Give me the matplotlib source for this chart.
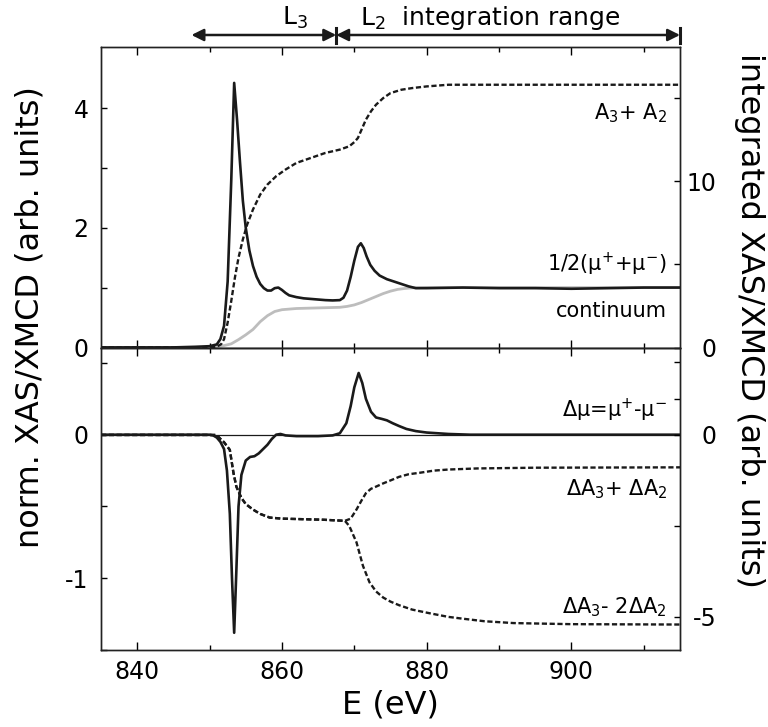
import matplotlib
matplotlib.use("Agg")
import matplotlib.pyplot as plt
import matplotlib.transforms as mtransforms
from matplotlib.lines import Line2D

plt.rcParams['font.family'] = ['DejaVu Sans']
plt.rcParams['mathtext.default'] = 'regular'

# ---------------- data ----------------
# XAS 1/2(mu+ + mu-)  (left axis, top panel)
E_xas = [835, 840, 845, 848, 850, 851, 851.5, 852, 852.5, 853, 853.4, 853.8, 854.2,
         854.6, 855, 855.5, 856, 856.5, 857, 857.5, 858, 858.5, 859, 859.5, 860,
         860.5, 861, 862, 863, 864, 865, 866, 867, 868, 868.5, 869, 869.5, 870,
         870.5, 870.9, 871.3, 871.7, 872.2, 872.8, 873.5, 874.5, 875.5, 876.5,
         877.5, 878.5, 880, 885, 890, 895, 900, 905, 910, 915]
xas = [0.0, 0.0, 0.0, 0.01, 0.02, 0.05, 0.14, 0.36, 1.1, 2.8, 4.42, 3.8, 3.1,
       2.45, 2.0, 1.62, 1.36, 1.18, 1.06, 0.99, 0.95, 0.95, 0.99, 1.0, 0.96,
       0.91, 0.87, 0.84, 0.82, 0.81, 0.8, 0.79, 0.785, 0.79, 0.83, 0.95, 1.18, 1.45,
       1.68, 1.74, 1.66, 1.52, 1.38, 1.28, 1.2, 1.14, 1.1, 1.06, 1.02, 0.99,
       0.99, 1.0, 0.99, 0.99, 0.98, 0.99, 1.0, 1.0]

# continuum step (left axis, top panel)
E_cont = [835, 845, 850, 851, 852, 853, 854, 855, 856, 857, 858, 859, 860, 862,
          865, 868, 869, 870, 871, 872, 873, 874, 875, 876, 877, 878, 880, 915]
cont = [0.0, 0.0, 0.0, 0.01, 0.03, 0.06, 0.13, 0.21, 0.3, 0.43, 0.53, 0.6, 0.63,
        0.65, 0.66, 0.67, 0.685, 0.71, 0.75, 0.8, 0.85, 0.9, 0.94, 0.97, 0.985,
        0.995, 1.0, 1.0]

# integrated A3 + A2 (right axis, top panel)
E_int = [835, 845, 850, 851, 851.6, 852, 852.5, 853, 853.5, 854, 854.6, 855.2, 856,
         857, 858, 859.2, 860.5, 862, 864, 866, 868, 869.3, 870, 870.5, 871, 871.6,
         872.3, 873, 874, 875, 876.5, 878, 880, 883, 890, 900, 915]
int_A = [0.0, 0.0, 0.0, 0.05, 0.2, 0.5, 1.5, 2.8, 4.2, 5.4, 6.5, 7.4, 8.3, 9.2,
         9.8, 10.3, 10.7, 11.1, 11.4, 11.7, 11.9, 12.1, 12.35, 12.6, 13.1, 13.7,
         14.2, 14.6, 15.0, 15.3, 15.5, 15.6, 15.7, 15.8, 15.8, 15.8, 15.8]

# XMCD mu+ - mu- (left axis, bottom panel)
E_mcd = [835, 845, 850, 850.5, 851, 851.5, 852, 852.4, 852.8, 853.1, 853.4, 853.7,
         854, 854.4, 855, 855.6, 856.2, 856.8, 857.4, 858, 858.6, 859.2, 859.8,
         860.5, 862, 865, 867, 868, 868.9, 869.5, 870, 870.6, 871.1, 871.6, 872.3,
         873, 873.8, 874.5, 875.3, 876.2, 877.2, 878.5, 880, 883, 886, 900, 915]
xmcd = [0.0, 0.0, 0.0, -0.005, -0.02, -0.05, -0.1, -0.25, -0.55, -1.0, -1.38,
        -0.95, -0.5, -0.28, -0.18, -0.155, -0.15, -0.13, -0.1, -0.07, -0.03, 0.0,
        0.005, -0.005, -0.01, -0.01, -0.005, 0.01, 0.08, 0.2, 0.33, 0.43, 0.36,
        0.25, 0.16, 0.12, 0.11, 0.1, 0.08, 0.06, 0.04, 0.025, 0.015, 0.005, 0.0,
        0.0, 0.0]

# integrated dA3 + dA2 (right axis, bottom panel)
E_dsum = [835, 845, 851, 851.4, 852, 852.8, 853.3, 853.7, 854.4, 855, 856, 857,
          858.3, 860, 862, 865.7, 868.7, 869.5, 870.3, 871, 871.6, 872.3, 873,
          874, 875, 876.2, 877.5, 879, 881, 883, 887, 895, 915]
dsum = [0.0, 0.0, 0.0, -0.09, -0.2, -0.41, -1.04, -1.42, -1.73, -1.9, -2.05,
        -2.17, -2.27, -2.3, -2.31, -2.33, -2.36, -2.3, -2.05, -1.8, -1.6, -1.48,
        -1.42, -1.33, -1.25, -1.15, -1.08, -1.04, -0.98, -0.95, -0.92, -0.9, -0.89]

# integrated dA3 - 2 dA2 (right axis, bottom panel)
E_ddiff = [835, 845, 851, 851.4, 852, 852.8, 853.3, 853.7, 854.4, 855, 856, 857,
           858.3, 860, 862, 865.7, 868.7, 869.3, 870.3, 871.2, 872.1, 873, 874,
           875, 876.2, 878, 880.4, 883, 885, 888, 892, 900, 915]
ddiff = [0.0, 0.0, 0.0, -0.09, -0.2, -0.41, -1.04, -1.42, -1.73, -1.9, -2.05,
         -2.17, -2.27, -2.3, -2.31, -2.33, -2.36, -2.5, -2.95, -3.6, -4.05, -4.3,
         -4.47, -4.58, -4.68, -4.8, -4.9, -5.0, -5.05, -5.12, -5.17, -5.2, -5.21]

# integration ranges (eV)
L3_range = [847.5, 867.5]
L2_range = [867.5, 915]

x_ticks = [840, 860, 880, 900]
x_minor = [850, 870, 890, 910]

# ---------------- figure ----------------
W, H = 768, 727
fig = plt.figure(figsize=(W / 100, H / 100), dpi=100)

L, R = 101 / W, 680 / W
ax1 = fig.add_axes([L, 1 - 348 / H, R - L, (348 - 47) / H])
ax2 = fig.add_axes([L, 1 - 650 / H, R - L, (650 - 348) / H], sharex=ax1)
ax1r = ax1.twinx()
ax2r = ax2.twinx()

lw = 1.9
dash = (2.2, 1.1)
ax1.plot(E_cont, cont, color='#bdbdbd', lw=2.0, zorder=2)
ax1.plot(E_xas, xas, color='#1a1a1a', lw=lw, zorder=3)
ax1r.plot(E_int, int_A, color='#1a1a1a', lw=1.7, dashes=dash)

ax2.axhline(0, color='#1a1a1a', lw=0.9)
ax2.plot(E_mcd, xmcd, color='#1a1a1a', lw=lw, zorder=3)
ax2r.plot(E_dsum, dsum, color='#1a1a1a', lw=1.7, dashes=dash)
ax2r.plot(E_ddiff, ddiff, color='#1a1a1a', lw=1.7, dashes=dash)

ax1.set_xlim(835, 915)
ax1.set_ylim(-0.01, 5.02)
ax1r.set_ylim(-0.03, 18.07)
ax2.set_ylim(-1.5, 0.604)
ax2r.set_ylim(-5.91, 2.39)

for a in (ax1, ax2, ax1r, ax2r):
    for s in a.spines.values():
        s.set_linewidth(1.0)
        s.set_color('#222222')

tick_fs = 17
for a in (ax1, ax2):
    a.set_xticks(x_ticks)
    a.set_xticks(x_minor, minor=True)
    a.tick_params(axis='x', which='major', direction='in', length=6, width=1,
                  top=True, bottom=True, labelsize=tick_fs, pad=7)
    a.tick_params(axis='x', which='minor', direction='in', length=3.5, width=1,
                  top=True, bottom=True)
    a.tick_params(axis='y', which='both', direction='in', length=4, width=1,
                  labelsize=tick_fs, pad=9)
ax1.tick_params(axis='x', labelbottom=False)

ax1.set_yticks([0, 1, 2, 3, 4])
ax1.set_yticklabels(['0', '', '2', '', '4'])
ax2.set_yticks([-1.5, -1, -0.5, 0, 0.5])
ax2.set_yticklabels(['', '-1', '', '0', ''])

ax1r.set_yticks([0, 5, 10, 15])
ax1r.set_yticklabels(['0', '', '10', ''])
ax2r.set_yticks([-5, -2.5, 0, 1, 2])
ax2r.set_yticklabels(['-5', '', '0', '', ''])
for a in (ax1r, ax2r):
    a.tick_params(axis='y', direction='in', length=4, width=1,
                  labelsize=tick_fs, pad=26.5)
    for t in a.get_yticklabels():
        t.set_horizontalalignment('right')

ax2.set_xlabel('E (eV)', fontsize=23, labelpad=4)

fig.text(30 / W, 1 - 317 / H, 'norm. XAS/XMCD (arb. units)', rotation=90,
         fontsize=23, ha='center', va='center')
fig.text(749 / W, 1 - 320 / H, 'integrated XAS/XMCD (arb. units)', rotation=270,
         fontsize=23, ha='center', va='center')

# curve labels
lab_fs = 15
xl = 913.2
ax1.text(xl, 3.92, 'A$_3$+ A$_2$', ha='right', va='center', fontsize=lab_fs)
ax1.text(xl, 1.38, '1/2(μ$^{+}$+μ$^{-}$)', ha='right', va='center', fontsize=lab_fs)
ax1.text(xl, 0.6, 'continuum', ha='right', va='center', fontsize=lab_fs)
ax2.text(xl, 0.17, 'Δμ=μ$^{+}$-μ$^{-}$', ha='right', va='center', fontsize=lab_fs)
ax2.text(xl, -0.38, 'ΔA$_3$+ ΔA$_2$', ha='right', va='center', fontsize=lab_fs)
ax2.text(xl, -1.2, 'ΔA$_3$- 2ΔA$_2$', ha='right', va='center', fontsize=lab_fs)

# integration-range arrows above the plot
trans = mtransforms.blended_transform_factory(ax1.transData, fig.transFigure)
ya = 1 - 35 / H
arrow_kw = dict(arrowstyle='<|-|>', lw=1.8, color='#1a1a1a', mutation_scale=18,
                shrinkA=0, shrinkB=0)
ax1.annotate('', xy=(L3_range[1], ya), xytext=(L3_range[0], ya), xycoords=trans,
             textcoords=trans, arrowprops=arrow_kw, annotation_clip=False)
ax1.annotate('', xy=(L2_range[1], ya), xytext=(L2_range[0], ya), xycoords=trans,
             textcoords=trans, arrowprops=arrow_kw, annotation_clip=False)
for xb in (L2_range[0], L2_range[1]):
    fig.add_artist(Line2D([xb, xb], [1 - 28 / H, 1 - 43 / H], transform=trans,
                          color='#1a1a1a', lw=2.2))

yb = 1 - 25 / H
fig.text(282 / W, yb, 'L$_3$', fontsize=18, ha='left', va='baseline')
fig.text(360 / W, yb, 'L$_2$  integration range', fontsize=18, ha='left',
         va='baseline')

fig.savefig('out.png', dpi=100)
